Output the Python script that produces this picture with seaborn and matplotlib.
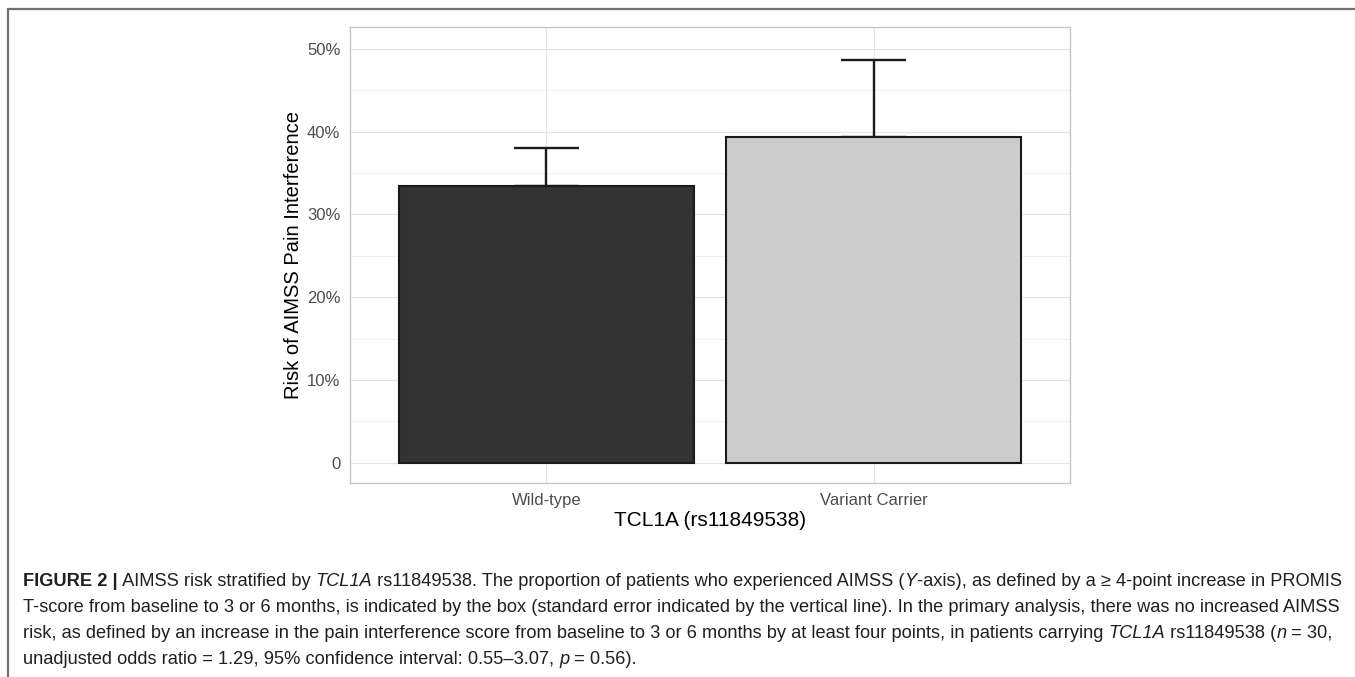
import matplotlib
matplotlib.use("Agg")
import matplotlib.pyplot as plt
import seaborn as sns
import numpy as np
import pandas as pd
from matplotlib.lines import Line2D

# ── data ──────────────────────────────────────────────────────────────────────
GROUPS   = ["Wild-type", "Variant Carrier"]
RISK     = [33.4, 39.3]          # % of patients with AIMSS
RISK_UP  = [38.0, 48.7]          # risk + standard error
COLORS   = ["#333333", "#cccccc"]
Y_TICKS  = [0, 10, 20, 30, 40, 50]
Y_LABELS = ["0", "10%", "20%", "30%", "40%", "50%"]

CAPTION = [
    [("FIGURE 2 |", "bold"), (" AIMSS risk stratified by ", "normal"), ("TCL1A", "italic"),
     (" rs11849538. The proportion of patients who experienced AIMSS (", "normal"), ("Y", "italic"),
     ("-axis), as defined by a \u2265 4-point increase in PROMIS", "normal")],
    [("T-score from baseline to 3 or 6 months, is indicated by the box (standard error indicated by the "
      "vertical line). In the primary analysis, there was no increased AIMSS", "normal")],
    [("risk, as defined by an increase in the pain interference score from baseline to 3 or 6 months by at "
      "least four points, in patients carrying ", "normal"), ("TCL1A", "italic"),
     (" rs11849538 (", "normal"), ("n", "italic"), (" = 30,", "normal")],
    [("unadjusted odds ratio = 1.29, 95% confidence interval: 0.55\u20133.07, ", "normal"), ("p", "italic"),
     (" = 0.56).", "normal")],
]

df = pd.DataFrame({"group": GROUPS, "risk": RISK, "upper": RISK_UP})

sns.set_theme(style="whitegrid")
plt.rcParams["font.family"] = ["Liberation Sans", "DejaVu Sans"]

W, H = 1355, 677
fig = plt.figure(figsize=(W / 100, H / 100), dpi=100)
ax = fig.add_axes([350 / W, 1 - 483 / H, 720 / W, 456 / H])

# error bars drawn under the bars (ggplot style: whisker from bar top to +SE)
pos = np.arange(len(GROUPS))
ax.vlines(pos, df["risk"], df["upper"], color="#1a1a1a", lw=1.7, zorder=2)
ax.hlines(df["upper"], pos - 0.1, pos + 0.1, color="#1a1a1a", lw=1.7, zorder=2)
ax.hlines(df["risk"], pos - 0.1, pos + 0.1, color="#1a1a1a", lw=1.7, zorder=2)

sns.barplot(data=df, x="group", y="risk", hue="group", palette=COLORS, legend=False,
            width=0.9, edgecolor="#1a1a1a", linewidth=1.5, saturation=1, ax=ax, zorder=3)

ax.set_xlim(-0.6, 1.6)
ax.set_ylim(-0.05 * 48.7, 48.7 * 1.05 + 1.5)
ax.set_yticks(Y_TICKS)
ax.set_yticklabels(Y_LABELS)
ax.set_yticks([5, 15, 25, 35, 45], minor=True)

ax.grid(True, which="major", color="#e3e3e3", lw=0.8)
ax.grid(True, which="minor", axis="y", color="#efefef", lw=0.6)
ax.set_axisbelow(True)
for sp in ax.spines.values():
    sp.set_visible(True)
    sp.set_color("#c8c8c8")
    sp.set_linewidth(1.0)
ax.tick_params(axis="both", which="major", length=4, width=0.8, color="#c8c8c8",
               labelsize=12, labelcolor="#4d4d4d", pad=3)
ax.tick_params(axis="y", which="minor", length=0)

ax.set_xlabel("TCL1A (rs11849538)", fontsize=15, color="black", labelpad=2)
ax.set_ylabel("Risk of AIMSS Pain Interference", fontsize=14.5, color="black", labelpad=3)

# ── figure frame (top and left edge of the page crop) ─────────────────────────
fig.add_artist(Line2D([8 / W, 1], [1 - 9 / H, 1 - 9 / H], color="#707070", lw=1.6))
fig.add_artist(Line2D([8 / W, 8 / W], [0, 1 - 9 / H], color="#707070", lw=1.6))

# ── caption with mixed styles ─────────────────────────────────────────────────
CAP_FAMILY = ["Liberation Sans Narrow", "Liberation Sans", "DejaVu Sans"]
renderer = fig.canvas.get_renderer()


def style_kw(style, size):
    return dict(fontsize=size, family=CAP_FAMILY,
                fontweight="bold" if style == "bold" else "normal",
                fontstyle="italic" if style == "italic" else "normal")


def text_width(s, style, size):
    t1 = fig.text(0, 0, "|" + s + "|", **style_kw(style, size))
    t2 = fig.text(0, 0, "||", **style_kw(style, size))
    w = t1.get_window_extent(renderer).width - t2.get_window_extent(renderer).width
    t1.remove()
    t2.remove()
    return w


# fit the first caption line to the width it has in the page (x 23 → 1342)
base = 11.0
w1 = sum(text_width(s, st, base) for s, st in CAPTION[0])
cap_size = base * 1319 / w1

y_px = 581
for line in CAPTION:
    x_px = 23
    for s, style in line:
        fig.text(x_px / W, 1 - y_px / H, s, color="#231f20", va="center", ha="left",
                 **style_kw(style, cap_size))
        x_px += text_width(s, style, cap_size)
    y_px += 26

fig.savefig("out.png", dpi=100)
